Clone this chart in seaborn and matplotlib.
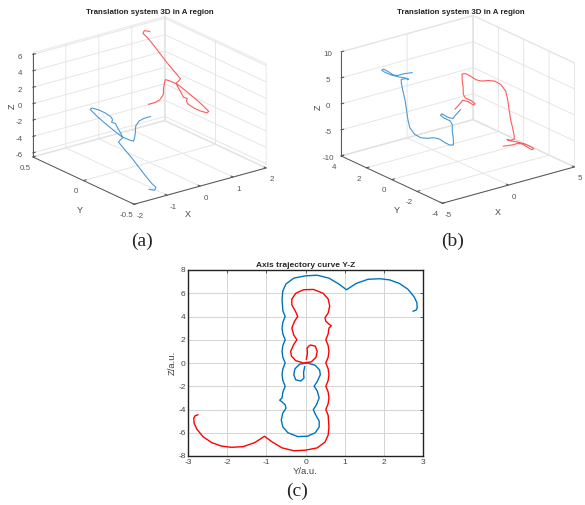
import matplotlib
matplotlib.use('Agg')
import matplotlib.pyplot as plt
import seaborn as sns
import pandas as pd

# ---- panel (a): 3D trajectories ----
a_blue_x = [-0.09, -0.23, -0.35, -0.48, -0.58, -0.67, -0.73, -0.79, -0.87, -0.92, -0.96, -1.00, -1.02, -1.03, -0.97, -0.89, -0.82,
            -0.77, -0.78, -0.84, -0.79, -0.81, -0.84, -0.87, -0.95, -1.00, -1.00, -1.00, -1.01, -1.02, -1.02, -1.00, -1.07, -1.15]
a_blue_y = [-0.04, -0.02, -0.01, -0.02, -0.05, -0.07, -0.08, -0.06, -0.01, 0.05, 0.12, 0.18, 0.23, 0.25, 0.25, 0.21, 0.17,
            0.13, 0.11, 0.10, 0.08, 0.05, 0.01, -0.02, -0.02, -0.02, -0.07, -0.14, -0.22, -0.30, -0.36, -0.39, -0.40, -0.37]
a_blue_z = [-0.56, -0.75, -1.01, -1.43, -1.91, -2.40, -2.64, -2.54, -2.34, -1.89, -1.41, -0.93, -0.51, -0.32, -0.23, -0.32, -0.53,
            -0.82, -1.06, -1.26, -1.32, -1.67, -2.06, -2.41, -2.59, -2.79, -3.25, -3.86, -4.62, -5.39, -5.92, -6.18, -6.39, -6.37]
a_red_x = [0.09, 0.23, 0.35, 0.48, 0.58, 0.67, 0.73, 0.79, 0.87, 0.92, 0.96, 1.00, 1.02, 1.03, 0.97, 0.89, 0.82,
           0.77, 0.78, 0.84, 0.79, 0.81, 0.84, 0.87, 0.95, 1.00, 1.00, 1.00, 1.01, 1.02, 1.02, 1.00, 1.07, 1.15]
a_red_y = [0.04, 0.02, 0.01, 0.02, 0.05, 0.07, 0.08, 0.06, 0.01, -0.05, -0.12, -0.18, -0.23, -0.25, -0.25, -0.21, -0.17,
           -0.13, -0.11, -0.10, -0.08, -0.05, -0.01, 0.02, 0.02, 0.02, 0.07, 0.14, 0.22, 0.30, 0.36, 0.39, 0.40, 0.37]
a_red_z = [0.26, 0.45, 0.71, 1.13, 1.61, 2.10, 2.34, 2.24, 2.04, 1.59, 1.11, 0.63, 0.21, 0.02, -0.07, 0.02, 0.23,
           0.52, 0.76, 0.96, 1.02, 1.37, 1.76, 2.11, 2.29, 2.49, 2.95, 3.56, 4.32, 5.09, 5.62, 5.88, 6.09, 6.07]

# ---- panel (b): 3D trajectories ----
b_blue_x = [0.12, -0.14, -0.41, -0.60, -0.76, -0.86, -0.76, -0.56, -0.55, -0.69, -0.79, -0.92, -1.08, -1.25, -1.40, -1.62, -1.91,
            -2.18, -2.37, -2.44, -2.35, -2.20, -2.07, -1.97, -1.88, -1.81, -1.61, -1.49, -1.61, -1.87, -2.16, -2.37, -2.46,
            -2.35, -2.20, -2.05, -1.89, -1.60, -1.19]
b_blue_y = [-0.10, -0.06, -0.03, 0.19, 0.44, 0.47, 0.28, 0.01, -0.14, -0.29, -0.47, -0.62, -0.50, -0.26, -0.01, 0.21, 0.42,
            0.66, 0.94, 1.24, 1.49, 1.76, 2.01, 2.28, 2.50, 2.58, 2.46, 2.33, 2.48, 2.73, 3.03, 3.31, 3.45,
            3.41, 3.18, 2.94, 2.80, 2.63, 2.35]
b_blue_z = [0.01, -0.69, -1.45, -1.28, -0.81, -1.03, -1.46, -1.83, -2.38, -3.40, -4.43, -5.47, -5.55, -5.17, -4.70, -4.55, -4.70,
            -4.66, -4.18, -3.24, -1.98, -0.44, 1.00, 2.38, 3.54, 4.07, 4.26, 4.18, 4.35, 4.45, 4.69, 5.06, 5.34,
            5.52, 5.14, 4.71, 4.65, 4.95, 5.24]
b_red_x = [-0.12, 0.14, 0.41, 0.60, 0.76, 0.86, 0.76, 0.56, 0.55, 0.69, 0.79, 0.92, 1.08, 1.25, 1.40, 1.62, 1.91,
           2.18, 2.37, 2.44, 2.35, 2.20, 2.07, 1.97, 1.88, 1.81, 1.61, 1.49, 1.61, 1.87, 2.16, 2.37, 2.46,
           2.35, 2.20, 2.05, 1.89, 1.60, 1.19]
b_red_y = [0.10, 0.06, 0.03, -0.19, -0.44, -0.47, -0.28, -0.01, 0.14, 0.29, 0.47, 0.62, 0.50, 0.26, 0.01, -0.21, -0.42,
           -0.66, -0.94, -1.24, -1.49, -1.76, -2.01, -2.28, -2.50, -2.58, -2.46, -2.33, -2.48, -2.73, -3.03, -3.31, -3.45,
           -3.41, -3.18, -2.94, -2.80, -2.63, -2.35]
b_red_z = [-0.01, 0.69, 1.45, 1.28, 0.81, 1.03, 1.46, 1.83, 2.38, 3.40, 4.43, 5.47, 5.55, 5.17, 4.70, 4.55, 4.70,
           4.66, 4.18, 3.24, 1.98, 0.44, -1.00, -2.38, -3.54, -4.07, -4.26, -4.18, -4.35, -4.45, -4.69, -5.06, -5.34,
           -5.52, -5.14, -4.71, -4.65, -4.95, -5.24]

# ---- panel (c): Y-Z projection ----
c_blue_y = [2.75, 2.83, 2.86, 2.85, 2.78, 2.62, 2.40, 2.15, 1.90, 1.60, 1.30, 1.05, 0.85, 0.60, 0.30, 0.00, -0.30,
            -0.50, -0.58, -0.60, -0.58, -0.52, -0.58, -0.60, -0.58, -0.52, -0.58, -0.60, -0.58, -0.52, -0.58, -0.60,
            -0.58, -0.52, -0.58, -0.60, -0.66, -0.60, -0.52, -0.50, -0.58, -0.62, -0.58, -0.45, -0.20, 0.05, 0.25,
            0.35, 0.35, 0.25, 0.20, 0.28, 0.35, 0.30, 0.22, 0.30, 0.38, 0.36, 0.25, 0.05, -0.15, -0.27, -0.30, -0.25,
            -0.12, -0.04, -0.05, -0.02]
c_blue_z = [4.45, 4.55, 4.75, 5.20, 5.70, 6.35, 6.85, 7.15, 7.25, 7.20, 6.85, 6.30, 6.80, 7.30, 7.55, 7.50, 7.30,
            6.80, 6.20, 5.50, 4.50, 4.00, 3.50, 3.00, 2.50, 2.00, 1.50, 1.00, 0.50, 0.00, -0.50, -1.00,
            -1.50, -2.00, -2.50, -3.00, -3.20, -3.35, -3.60, -3.90, -4.30, -4.90, -5.50, -6.00, -6.33, -6.30, -6.00,
            -5.50, -5.00, -4.40, -4.00, -3.60, -3.00, -2.40, -2.00, -1.60, -1.00, -0.60, -0.20, 0.00, -0.10, -0.50,
            -1.00, -1.45, -1.55, -1.30, -0.80, -0.30]
c_red_y = [-2.75, -2.83, -2.86, -2.85, -2.78, -2.62, -2.40, -2.15, -1.90, -1.60, -1.30, -1.05, -0.85, -0.60, -0.30, 0.00, 0.30,
           0.50, 0.58, 0.60, 0.58, 0.52, 0.58, 0.60, 0.58, 0.52, 0.58, 0.60, 0.58, 0.52, 0.58, 0.60,
           0.58, 0.52, 0.58, 0.60, 0.66, 0.60, 0.52, 0.50, 0.58, 0.62, 0.58, 0.45, 0.20, -0.05, -0.25,
           -0.35, -0.35, -0.25, -0.20, -0.28, -0.35, -0.30, -0.22, -0.30, -0.38, -0.36, -0.25, -0.05, 0.15, 0.27, 0.30, 0.25,
           0.12, 0.04, 0.05, 0.02]
c_red_z = [-4.45, -4.55, -4.75, -5.20, -5.70, -6.35, -6.85, -7.15, -7.25, -7.20, -6.85, -6.30, -6.80, -7.30, -7.55, -7.50, -7.30,
           -6.80, -6.20, -5.50, -4.50, -4.00, -3.50, -3.00, -2.50, -2.00, -1.50, -1.00, -0.50, 0.00, 0.50, 1.00,
           1.50, 2.00, 2.50, 3.00, 3.20, 3.35, 3.60, 3.90, 4.30, 4.90, 5.50, 6.00, 6.33, 6.30, 6.00,
           5.50, 5.00, 4.40, 4.00, 3.60, 3.00, 2.40, 2.00, 1.60, 1.00, 0.60, 0.20, 0.00, 0.10, 0.50,
           1.00, 1.45, 1.55, 1.30, 0.80, 0.30]

a_xticks = [-2, -1, 0, 1, 2]
a_yticks = [-0.5, 0, 0.5]
a_zticks = [-6, -4, -2, 0, 2, 4, 6]
b_xticks = [-5, 0, 5]
b_yticks = [-4, -2, 0, 2, 4]
b_zticks = [-10, -5, 0, 5, 10]

BLUE = '#0072BD'
RED = '#FF0000'
BLUE3D = '#4A9AD6'
RED3D = '#FF5A5A'

sns.set_style('white')
plt.rcParams['font.family'] = ['Liberation Sans', 'DejaVu Sans']
plt.rcParams['axes.unicode_minus'] = False
plt.rcParams['grid.color'] = '#e2e2e2'
plt.rcParams['grid.linewidth'] = 0.6
plt.rcParams['axes3d.grid'] = True

fig = plt.figure(figsize=(5.85, 5.05), dpi=100)


def fmt(v):
    return '%g' % v


def style3d(ax, xlim, ylim, zlim, xt, yt, zt):
    ax.set_proj_type('ortho')
    ax.view_init(elev=21, azim=-127.5)
    ax.set_box_aspect((1, 1, 0.67), zoom=1.065)
    ax.set_xlim(*xlim)
    ax.set_ylim(*ylim)
    ax.set_zlim(*zlim)
    ax.set_xticks(xt, [fmt(v) for v in xt])
    ax.set_yticks(yt, [fmt(v) for v in yt])
    ax.set_zticks(zt, [fmt(v) for v in zt])
    for axis in (ax.xaxis, ax.yaxis, ax.zaxis):
        axis.pane.set_facecolor('white')
        axis.pane.set_edgecolor('#dcdcdc')
        axis.line.set_color('#555555')
        axis.line.set_linewidth(0.7)
        axis._axinfo['grid']['color'] = '#e2e2e2'
        axis._axinfo['grid']['linewidth'] = 0.6
        axis._axinfo['tick']['inward_factor'] = 0.0
        axis._axinfo['tick']['outward_factor'] = 0.25
    ax.tick_params(axis='x', labelsize=5.8, colors='#555555', pad=-3)
    ax.tick_params(axis='y', labelsize=5.8, colors='#555555', pad=-3)
    ax.tick_params(axis='z', labelsize=5.8, colors='#555555', pad=-3)


ax1 = fig.add_axes([0.0, 0.54, 0.5, 0.47], projection='3d')
ax1.plot(a_blue_x, a_blue_y, a_blue_z, color=BLUE3D, lw=0.8)
ax1.plot(a_red_x, a_red_y, a_red_z, color=RED3D, lw=0.8)
style3d(ax1, (-2, 2), (-0.5, 0.5), (-6.5, 6.2), a_xticks, a_yticks, a_zticks)

ax2 = fig.add_axes([0.527, 0.542, 0.5, 0.47], projection='3d')
ax2.plot(b_blue_x, b_blue_y, b_blue_z, color=BLUE3D, lw=0.8)
ax2.plot(b_red_x, b_red_y, b_red_z, color=RED3D, lw=0.8)
style3d(ax2, (-5, 5), (-4, 4), (-10, 10), b_xticks, b_yticks, b_zticks)

ttl = dict(fontsize=5.7, fontweight='bold', ha='center', va='center', color='#222222')
fig.text(149.5 / 585, 1 - 13 / 505, 'Translation system 3D in A region', **ttl)
fig.text(460.5 / 585, 1 - 13 / 505, 'Translation system 3D in A region', **ttl)

lab = dict(fontsize=6.5, color='#444444', ha='center', va='center')
for (xx, yy, zz) in [((188, 215), (80, 211), (12, 106)), ((498, 213), (397, 211), (318, 107))]:
    fig.text(xx[0] / 585, 1 - xx[1] / 505, 'X', **lab)
    fig.text(yy[0] / 585, 1 - yy[1] / 505, 'Y', **lab)
    fig.text(zz[0] / 585, 1 - zz[1] / 505, 'Z', rotation=90, **lab)

# ---- panel (c) ----
ax3 = fig.add_axes([188.3 / 585, 1 - 456 / 505, 234.4 / 585, 186 / 505])
sns.lineplot(x=c_blue_y, y=c_blue_z, sort=False, estimator=None, color=BLUE, lw=1.0, ax=ax3)
sns.lineplot(x=c_red_y, y=c_red_z, sort=False, estimator=None, color=RED, lw=1.0, ax=ax3)
ax3.set_xlim(-3, 3)
ax3.set_ylim(-8, 8)
ax3.set_xticks(range(-3, 4))
ax3.set_yticks(range(-8, 9, 2))
ax3.grid(True, color='#d4d4d4', lw=0.7)
ax3.tick_params(direction='in', length=2.5, width=0.6, labelsize=6, colors='#444444',
                top=True, right=True, labeltop=False, labelright=False, pad=2)
for sp in ax3.spines.values():
    sp.set_color('#222222')
    sp.set_linewidth(1.0)
ax3.set_xlabel('Y/a.u.', fontsize=6.8, color='#444444', labelpad=1)
ax3.set_ylabel('Z/a.u.', fontsize=6.8, color='#444444', labelpad=1)
ax3.set_title('Axis trajectory curve Y-Z', fontsize=6.0, fontweight='bold', pad=2)

cap = dict(fontsize=14, family=['Liberation Serif', 'DejaVu Serif'], ha='center', va='center')
fig.text(142 / 585, 1 - 241 / 505, '(a)', **cap)
fig.text(453 / 585, 1 - 241 / 505, '(b)', **cap)
fig.text(297 / 585, 1 - 491 / 505, '(c)', **cap)

fig.savefig('out.png', dpi=100)
